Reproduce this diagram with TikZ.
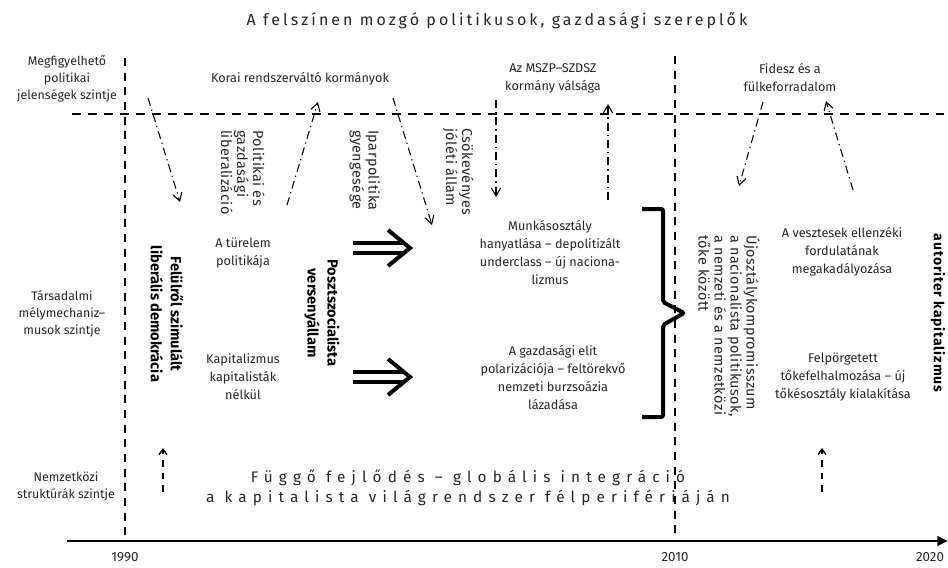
\documentclass[tikz,border=0pt]{standalone}
\usepackage{fontspec}
\setmainfont{Fira Sans}
\newfontfamily\titlefont[LetterSpace=19]{Fira Sans}
\newfontfamily\widefont[LetterSpace=40]{Fira Sans}
\newfontfamily\boldwide[LetterSpace=6]{Fira Sans}
\newfontfamily\vfont[LetterSpace=3]{Fira Sans}
\usetikzlibrary{arrows.meta}
\definecolor{txt}{HTML}{262626}
\begin{document}
\begin{tikzpicture}[x=0.75pt,y=-0.75pt,
  lbl/.style={font=\fontsize{9.5}{13.5}\selectfont, text=txt, align=center, inner sep=0pt},
  side/.style={font=\fontsize{9.3}{12.75}\selectfont, text=txt, align=center, inner sep=0pt},
  vlbl/.style={font=\vfont\fontsize{10.8}{12}\selectfont, text=txt, align=left, inner sep=0pt, rotate=-90, anchor=north west},
  bigv/.style={font=\fontsize{11}{15}\selectfont\bfseries, text=black, align=center, inner sep=0pt, rotate=-90},
  vdash/.style={line width=1.1pt, dash pattern=on 6pt off 5pt},
  hdash/.style={line width=1.1pt, dash pattern=on 7pt off 5pt},
  dd/.style={line width=0.8pt, dash pattern=on 6pt off 3pt on 1pt off 3pt, -{Straight Barb[length=6pt,width=7pt]}},
  upd/.style={line width=1.1pt, dash pattern=on 5pt off 4.5pt, -{Straight Barb[length=4pt,width=6pt]}},
  bigarr/.style={line width=3pt, line cap=butt},
  brace/.style={line width=3pt, rounded corners=1.5pt},
  yr/.style={font=\fontsize{10}{12}\selectfont, text=txt, inner sep=0pt},
]
\useasboundingbox (0,0) rectangle (948,567);

% title
\node[font=\titlefont\fontsize{12}{14}\selectfont, text=txt, inner sep=0pt] (title) at (497,21) {A felszínen mozgó politikusok, gazdasági szereplők};

% level labels
\node[side] (lev1) at (67,79) {Megfigyelhető\\politikai\\jelenségek szintje};
\node[side] (lev2) at (62,314) {Társadalmi\\mélymechaniz–\\musok szintje};
\node[side] (lev3) at (66,486) {Nemzetközi\\struktúrák szintje};

% grid lines
\coordinate (v1t) at (125,58); \coordinate (v1b) at (125,541);
\coordinate (v2t) at (675,56); \coordinate (v2b) at (675,541);
\coordinate (hl) at (72,114); \coordinate (hr) at (944,114);
\draw[vdash] (v1t) -- (v1b);
\draw[vdash] (v2t) -- (v2b);
\draw[hdash] (hl) -- (hr);

% axis
\coordinate (ax0) at (67,541); \coordinate (ax1) at (948,541);
\draw[line width=2pt, -{Triangle[length=8pt,width=7pt]}] (ax0) -- (ax1);
\node[yr] (y1990) at (125,557) {1990};
\node[yr] (y2010) at (675,557) {2010};
\node[yr] (y2020) at (930,557) {2020};

% top labels
\node[lbl] (korai) at (300,79) {Korai rendszerváltó kormányok};
\node[lbl] (mszp) at (553,78) {Az MSZP–SZDSZ\\kormány válsága};
\node[lbl] (fidesz) at (790,78) {Fidesz és a\\fülkeforradalom};

% rotated small labels
\node[vlbl] (polit) at (265,130) {Politikai és\\gazdasági\\liberalizáció};
\node[vlbl] (ipar) at (380,130) {Iparpolitika\\gyengesége};
\node[vlbl] (csok) at (474,128) {Csökevényes\\jóléti állam};
\node[vlbl] (ujoszt) at (760,235) {Újosztálykompromisszum\\a nacionalista politikusok,\\a nemzeti és a nemzetközi\\tőke között};

% bold rotated labels
\node[bigv] (felul) at (167,314) {Felülről szimulált\\liberális demokrácia};
\node[bigv] (poszt) at (322,313) {Posztszocialista\\versenyállam};
\node[bigv, font=\boldwide\fontsize{10.5}{15}\selectfont\bfseries] (autor) at (938,313) {autoriter kapitalizmus};

% middle texts
\node[lbl] (turel) at (243,253) {A türelem\\politikája};
\node[lbl] (kapit) at (243,377) {Kapitalizmus\\kapitalisták\\nélkül};
\node[lbl] (munk) at (550,252) {Munkásosztály\\hanyatlása – depolitizált\\underclass – új naciona-\\lizmus};
\node[lbl] (gazd) at (553,377) {A gazdasági elit\\polarizációja – feltörekvő\\nemzeti burzsoázia\\lázadása};
\node[lbl] (veszt) at (842,252) {A vesztesek ellenzéki\\fordulatának\\megakadályozása};
\node[lbl] (felp) at (843,377) {Felpörgetett\\tőkefelhalmozása – új\\tőkésosztály kialakítása};

% bottom text
\node[font=\widefont\fontsize{11.5}{15}\selectfont, text=txt, align=center, inner sep=0pt] (fuggo) at (468,488) {Függő fejlődés – globális integráció\\a kapitalista világrendszer félperifériáján};

% dash-dot arrows
\coordinate (a1s) at (148,98);  \coordinate (a1e) at (180,202);
\coordinate (a2s) at (287,205); \coordinate (a2e) at (318,102);
\coordinate (a3s) at (393,98);  \coordinate (a3e) at (432,225);
\coordinate (a4s) at (496,100); \coordinate (a4e) at (496,197);
\coordinate (a5s) at (608,200); \coordinate (a5e) at (608,104);
\coordinate (a6s) at (763,102); \coordinate (a6e) at (739,186);
\coordinate (a7s) at (853,190); \coordinate (a7e) at (826,101);
\draw[dd] (a1s) -- (a1e);
\draw[dd] (a2s) -- (a2e);
\draw[dd] (a3s) -- (a3e);
\draw[dd] (a4s) -- (a4e);
\draw[dd] (a5s) -- (a5e);
\draw[dd] (a6s) -- (a6e);
\draw[dd] (a7s) -- (a7e);

% dashed up arrows
\coordinate (u1s) at (163,492); \coordinate (u1e) at (163,448);
\coordinate (u2s) at (822,492); \coordinate (u2e) at (822,448);
\draw[upd] (u1s) -- (u1e);
\draw[upd] (u2s) -- (u2e);

% big double arrows
\foreach \yy in {248, 377}{
  \draw[bigarr] (353,\yy-5) -- (404,\yy-5);
  \draw[bigarr] (353,\yy+5) -- (404,\yy+5);
  \draw[bigarr, line join=miter] (388,\yy-18) -- (410,\yy) -- (388,\yy+18);
}

% brace
\draw[brace] (642,209) -- (663,209) -- (663,302) -- (684,313) -- (663,325) -- (663,417) -- (642,417);
\end{tikzpicture}
\end{document}
